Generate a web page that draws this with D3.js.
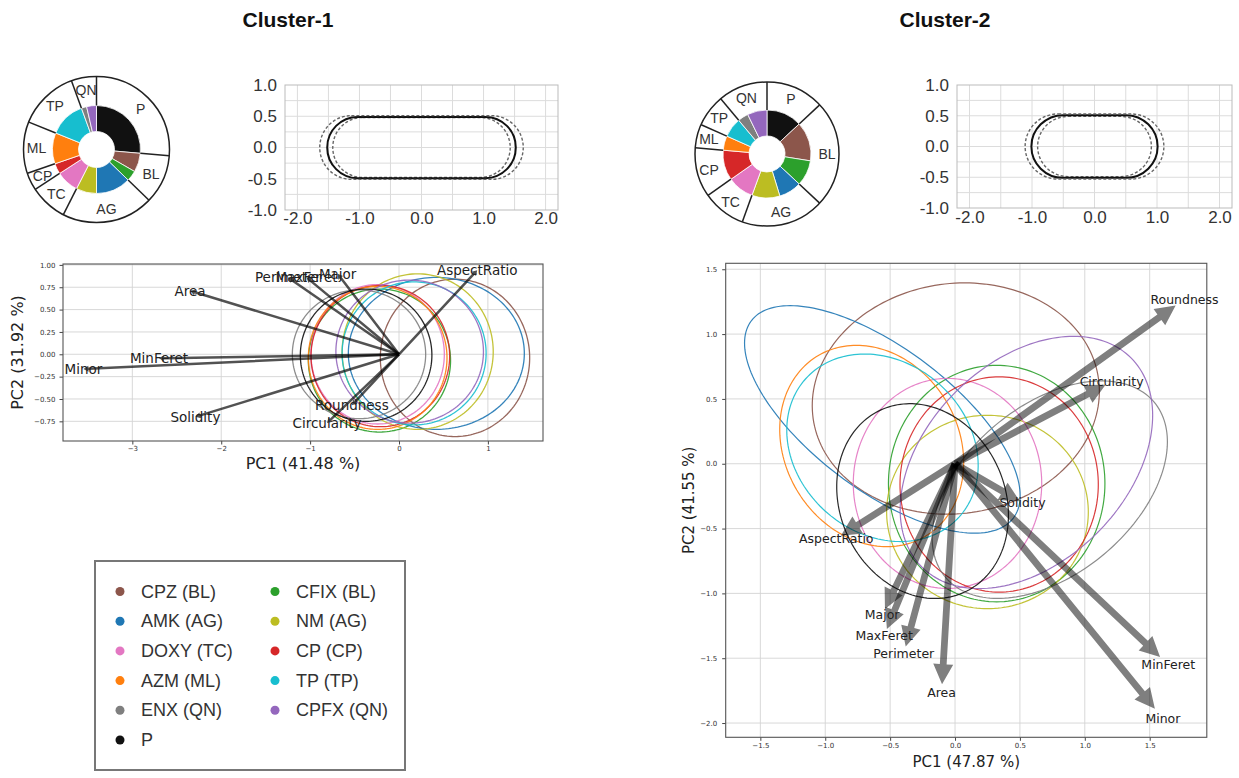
<!DOCTYPE html>
<html>
<head>
<meta charset="utf-8">
<script src="https://cdn.jsdelivr.net/npm/d3@7"></script>
<style>
  body { margin: 0; background: #fff; }
  svg { display: block; }
</style>
</head>
<body>
<svg id="chart" width="1239" height="778"></svg>
<script>
// ---- data ----
const drugs = ['CPZ', 'CFIX', 'AMK', 'NM', 'DOXY', 'CP', 'AZM', 'TP', 'ENX', 'CPFX', 'P'];
const drugColors = ['#8c564b', '#2ca02c', '#1f77b4', '#bcbd22', '#e377c2', '#d62728', '#ff7f0e', '#17becf', '#7f7f7f', '#9467bd', '#111111'];
const legendLabels = ['CPZ (BL)', 'CFIX (BL)', 'AMK (AG)', 'NM (AG)', 'DOXY (TC)', 'CP (CP)', 'AZM (ML)', 'TP (TP)', 'ENX (QN)', 'CPFX (QN)', 'P'];
const drugClass = { CPZ: 'BL', CFIX: 'BL', AMK: 'AG', NM: 'AG', DOXY: 'TC', CP: 'CP', AZM: 'ML', TP: 'TP', ENX: 'QN', CPFX: 'QN', P: 'P' };

// donut: clockwise from 12 o'clock
const pieOrder = ['P', 'CPZ', 'CFIX', 'AMK', 'NM', 'DOXY', 'CP', 'AZM', 'TP', 'ENX', 'CPFX'];
const pieCluster1 = [95, 25, 14, 46, 27, 30, 14, 41, 48, 7, 13];
const pieCluster2 = [47, 52, 34, 30, 37, 35, 40, 19, 26, 14, 26];

// mean shape outline: [half length, half height] for -sd, mean, +sd
const shapeCluster1 = [[1.43, 0.48], [1.52, 0.49], [1.64, 0.51]];
const shapeCluster2 = [[0.91, 0.49], [1.01, 0.51], [1.11, 0.53]];
const shapeXTicks = [-2, -1, 0, 1, 2];
const shapeYTicks = [-1, -0.5, 0, 0.5, 1];
const shapeGridX = [-2, -1.5, -1, -0.5, 0, 0.5, 1, 1.5, 2];
const shapeGridY = [-0.75, -0.5, -0.25, 0, 0.25, 0.5, 0.75];

// PCA loadings [PC1, PC2]
const features = ['Area', 'Perimeter', 'Major', 'Minor', 'Circularity', 'MaxFeret', 'MinFeret', 'AspectRatio', 'Roundness', 'Solidity'];
const loadCluster1 = [[-2.35, 0.71], [-1.25, 0.86], [-0.69, 0.90], [-3.55, -0.165], [-0.81, -0.77],
                      [-1.04, 0.86], [-2.70, -0.045], [0.88, 0.94], [-0.53, -0.57], [-2.29, -0.70]];
const loadCluster2 = [[-0.10, -1.70], [-0.38, -1.41], [-0.54, -1.12], [1.54, -1.89], [1.16, 0.61],
                      [-0.525, -1.275], [1.58, -1.49], [-0.88, -0.555], [1.70, 1.22], [0.50, -0.29]];

// confidence ellipses per drug (same order as drugs): [cx, cy, semi-axis a, semi-axis b, angle deg]
const ellCluster1 = [
  [0.63, -0.04, 0.84, 0.88, 0],
  [-0.22, -0.07, 0.80, 0.80, 0],
  [0.42, 0.01, 0.99, 0.85, 0],
  [0.21, 0.03, 0.85, 0.87, 0],
  [-0.24, 0.00, 0.75, 0.78, 0],
  [-0.21, -0.02, 0.78, 0.79, 0],
  [-0.24, -0.04, 0.78, 0.80, 0],
  [0.17, 0.01, 0.81, 0.80, 0],
  [-0.45, 0.00, 0.75, 0.72, 0],
  [0.12, 0.03, 0.83, 0.80, 0],
  [-0.37, -0.01, 0.74, 0.74, 0]
];
const ellCluster2 = [
  [0.006, 0.503, 1.11, 0.887, 8],
  [0.321, -0.153, 0.834, 0.912, 0],
  [-0.56, 0.342, 1.264, 0.547, -37],
  [0.25, -0.372, 0.777, 0.746, 0],
  [-0.058, -0.152, 0.726, 0.81, 0],
  [0.34, -0.16, 0.764, 0.83, 0],
  [-0.642, 0.137, 0.81, 0.67, -59.5],
  [-0.559, 0.123, 0.796, 0.658, -42],
  [0.73, -0.2, 1.05, 0.65, 40],
  [0.55, 0.01, 1.14, 0.77, 45],
  [-0.25, -0.288, 0.773, 0.636, -65.5]
];

const pcaC1XTicks = [-3, -2, -1, 0, 1];
const pcaC1YTicks = [-0.75, -0.5, -0.25, 0, 0.25, 0.5, 0.75, 1.0];
const pcaC2XTicks = [-1.5, -1.0, -0.5, 0, 0.5, 1.0, 1.5];
const pcaC2YTicks = [-2.0, -1.5, -1.0, -0.5, 0, 0.5, 1.0, 1.5];

// ---- drawing ----
const FONT_ARIAL = "'Liberation Sans', Arial, sans-serif";
const FONT_MPL = "'DejaVu Sans', sans-serif";
const svg = d3.select('#chart');
svg.append('rect').attr('width', 1239).attr('height', 778).attr('fill', '#fff');

const colorOf = d => drugColors[drugs.indexOf(d)];

// Titles
svg.append('text').attr('x', 288).attr('y', 27).attr('text-anchor', 'middle')
  .attr('font-family', FONT_ARIAL).attr('font-weight', 'bold').attr('font-size', 21).attr('fill', '#111')
  .text('Cluster-1');
svg.append('text').attr('x', 945).attr('y', 27).attr('text-anchor', 'middle')
  .attr('font-family', FONT_ARIAL).attr('font-weight', 'bold').attr('font-size', 21).attr('fill', '#111')
  .text('Cluster-2');

// Donut
function drawDonut(cx, cy, values, rOuter, labelR) {
  const g = svg.append('g').attr('transform', `translate(${cx},${cy})`);
  const pie = d3.pie().sort(null).value(d => d.v);
  const items = pieOrder.map((d, i) => ({ drug: d, v: values[i] }));
  const segArc = d3.arc().innerRadius(18).outerRadius(44);
  g.selectAll('path.seg').data(pie(items)).join('path')
    .attr('class', 'seg')
    .attr('d', segArc)
    .attr('fill', d => colorOf(d.data.drug))
    .attr('stroke', '#fff')
    .attr('stroke-width', 0.8);

  const classSums = d3.rollups(items, v => d3.sum(v, d => d.v), d => drugClass[d.drug]);
  const classArcs = pie(classSums.map(([k, v]) => ({ cls: k, v })));

  g.append('circle').attr('r', rOuter).attr('fill', 'none').attr('stroke', '#222').attr('stroke-width', 1.5);
  g.selectAll('line.div').data(classArcs).join('line')
    .attr('class', 'div')
    .attr('x1', d => 44 * Math.sin(d.startAngle))
    .attr('y1', d => -44 * Math.cos(d.startAngle))
    .attr('x2', d => rOuter * Math.sin(d.startAngle))
    .attr('y2', d => -rOuter * Math.cos(d.startAngle))
    .attr('stroke', '#222').attr('stroke-width', 1.5);
  g.selectAll('text.cls').data(classArcs).join('text')
    .attr('class', 'cls')
    .attr('x', d => labelR * Math.sin((d.startAngle + d.endAngle) / 2))
    .attr('y', d => -labelR * Math.cos((d.startAngle + d.endAngle) / 2))
    .attr('text-anchor', 'middle').attr('dominant-baseline', 'central')
    .attr('font-family', FONT_ARIAL).attr('font-size', 14).attr('fill', '#333')
    .text(d => d.data.cls);
}
drawDonut(96.5, 149.5, pieCluster1, 73, 60);
drawDonut(767, 154, pieCluster2, 72, 60);

// Mean shape plots
function stadiumPath(x, y, L, Hh) {
  const c = L - Hh;
  const rx = x(Hh) - x(0), ry = y(0) - y(Hh);
  return `M${x(-c)},${y(Hh)} L${x(c)},${y(Hh)} A${rx},${ry} 0 0 1 ${x(c)},${y(-Hh)} ` +
         `L${x(-c)},${y(-Hh)} A${rx},${ry} 0 0 1 ${x(-c)},${y(Hh)} Z`;
}

function drawShape(left, right, top, bottom, params, padX) {
  const x = d3.scaleLinear().domain([-2.2, 2.2]).range([left, right]);
  const y = d3.scaleLinear().domain([-1, 1]).range([bottom, top]);
  const g = svg.append('g');
  g.append('g').selectAll('line').data(shapeGridX).join('line')
    .attr('x1', d => x(d)).attr('x2', d => x(d)).attr('y1', top).attr('y2', bottom)
    .attr('stroke', '#dcdcdc').attr('stroke-width', 1);
  g.append('g').selectAll('line').data(shapeGridY).join('line')
    .attr('x1', left).attr('x2', right).attr('y1', d => y(d)).attr('y2', d => y(d))
    .attr('stroke', '#dcdcdc').attr('stroke-width', 1);
  g.append('rect').attr('x', left).attr('y', top).attr('width', right - left).attr('height', bottom - top)
    .attr('fill', 'none').attr('stroke', '#bbb').attr('stroke-width', 1);

  const styleAxis = a => {
    a.select('.domain').remove();
    a.selectAll('text').attr('font-family', FONT_ARIAL).attr('font-size', 17).attr('fill', '#333');
  };
  g.append('g').attr('transform', `translate(0,${bottom})`)
    .call(d3.axisBottom(x).tickValues(shapeXTicks).tickSize(0).tickPadding(padX).tickFormat(d => d.toFixed(1)))
    .call(styleAxis);
  g.append('g').attr('transform', `translate(${left},0)`)
    .call(d3.axisLeft(y).tickValues(shapeYTicks).tickSize(0).tickPadding(8).tickFormat(d => d.toFixed(1)))
    .call(styleAxis);

  const levels = g.append('g');
  levels.selectAll('path').data(params).join('path')
    .attr('d', d => stadiumPath(x, y, d[0], d[1]))
    .attr('fill', 'none')
    .attr('stroke', (d, i) => i === 1 ? '#111' : '#666')
    .attr('stroke-width', (d, i) => i === 1 ? 2 : 1.4)
    .attr('stroke-dasharray', (d, i) => i === 1 ? null : '3,2');
}
drawShape(285, 558, 85, 210, shapeCluster1, 2);
drawShape(957, 1232, 85, 208, shapeCluster2, 3);

// PCA biplots
function arrowPoints(x0, y0, x1, y1, w, hw, hl) {
  const dx = x1 - x0, dy = y1 - y0, L = Math.hypot(dx, dy);
  const ux = dx / L, uy = dy / L, nx = -uy, ny = ux;
  const bx = x1 - ux * hl, by = y1 - uy * hl;
  return [[x0 + nx * w, y0 + ny * w], [bx + nx * w, by + ny * w], [bx + nx * hw, by + ny * hw], [x1, y1],
          [bx - nx * hw, by - ny * hw], [bx - nx * w, by - ny * w], [x0 - nx * w, y0 - ny * w]];
}

function drawPCA(cfg) {
  const x = d3.scaleLinear().domain(cfg.xDomain).range([cfg.left, cfg.right]);
  const y = d3.scaleLinear().domain(cfg.yDomain).range([cfg.bottom, cfg.top]);
  const g = svg.append('g');
  const clipId = 'clip-' + cfg.id;
  svg.append('clipPath').attr('id', clipId).append('rect')
    .attr('x', cfg.left).attr('y', cfg.top).attr('width', cfg.right - cfg.left).attr('height', cfg.bottom - cfg.top);

  // grid
  g.append('g').selectAll('line').data(cfg.xTicks).join('line')
    .attr('x1', d => x(d)).attr('x2', d => x(d)).attr('y1', cfg.top).attr('y2', cfg.bottom)
    .attr('stroke', '#d4d4d4').attr('stroke-width', 0.9);
  g.append('g').selectAll('line').data(cfg.yTicks).join('line')
    .attr('x1', cfg.left).attr('x2', cfg.right).attr('y1', d => y(d)).attr('y2', d => y(d))
    .attr('stroke', '#d4d4d4').attr('stroke-width', 0.9);

  // axes
  const styleAxis = a => {
    a.select('.domain').remove();
    a.selectAll('text').attr('font-family', FONT_MPL).attr('font-size', 7).attr('fill', '#333');
    a.selectAll('line').attr('stroke', '#444');
  };
  g.append('g').attr('transform', `translate(0,${cfg.bottom})`)
    .call(d3.axisBottom(x).tickValues(cfg.xTicks).tickSize(3.5).tickPadding(2).tickFormat(cfg.xFormat))
    .call(styleAxis);
  g.append('g').attr('transform', `translate(${cfg.left},0)`)
    .call(d3.axisLeft(y).tickValues(cfg.yTicks).tickSize(3.5).tickPadding(cfg.yPad).tickFormat(cfg.yFormat))
    .call(styleAxis);

  // ellipses
  const plot = g.append('g').attr('clip-path', `url(#${clipId})`);
  const line = d3.line().x(p => x(p[0])).y(p => y(p[1])).curve(d3.curveLinearClosed);
  const steps = d3.range(0, 2 * Math.PI, Math.PI / 90);
  plot.selectAll('path.ell').data(cfg.ellipses).join('path')
    .attr('class', 'ell')
    .attr('d', e => {
      const [cx, cy, a, b, ang] = e;
      const r = ang * Math.PI / 180;
      return line(steps.map(t => [
        cx + a * Math.cos(t) * Math.cos(r) - b * Math.sin(t) * Math.sin(r),
        cy + a * Math.cos(t) * Math.sin(r) + b * Math.sin(t) * Math.cos(r)
      ]));
    })
    .attr('fill', 'none')
    .attr('stroke', (e, i) => drugColors[i])
    .attr('stroke-width', cfg.ellWidth)
    .attr('stroke-opacity', 0.9);

  // arrows
  const a = cfg.arrow;
  plot.selectAll('polygon.arr').data(cfg.loads).join('polygon')
    .attr('class', 'arr')
    .attr('points', d => arrowPoints(x(0), y(0), x(d[0]), y(d[1]), a.w, a.hw, a.hl).map(p => p.join(',')).join(' '))
    .attr('fill', '#000')
    .attr('fill-opacity', a.opacity);

  // frame
  g.append('rect').attr('x', cfg.left).attr('y', cfg.top)
    .attr('width', cfg.right - cfg.left).attr('height', cfg.bottom - cfg.top)
    .attr('fill', 'none').attr('stroke', '#555').attr('stroke-width', 1.1);

  // feature labels
  g.selectAll('text.feat').data(cfg.loads).join('text')
    .attr('class', 'feat')
    .attr('x', d => x(d[0] * cfg.labelScale))
    .attr('y', d => y(d[1] * cfg.labelScale))
    .attr('text-anchor', 'middle').attr('dominant-baseline', 'central')
    .attr('font-family', FONT_MPL).attr('font-size', cfg.labelSize).attr('fill', '#222')
    .text((d, i) => features[i]);

  // axis titles
  g.append('text').attr('x', (cfg.left + cfg.right) / 2).attr('y', cfg.xLabelY)
    .attr('text-anchor', 'middle').attr('font-family', FONT_MPL).attr('font-size', cfg.titleSize).attr('fill', '#222')
    .text(cfg.xLabel);
  g.append('text')
    .attr('transform', `translate(${cfg.yLabelX},${(cfg.top + cfg.bottom) / 2}) rotate(-90)`)
    .attr('text-anchor', 'middle').attr('dominant-baseline', 'central')
    .attr('font-family', FONT_MPL).attr('font-size', cfg.titleSize).attr('fill', '#222')
    .text(cfg.yLabel);
}

drawPCA({
  id: 'c1', left: 63, right: 543, top: 264, bottom: 441,
  xDomain: [-3.78, 1.62], yDomain: [-0.97, 1.01],
  xTicks: pcaC1XTicks, yTicks: pcaC1YTicks,
  xFormat: d3.format('d'), yFormat: d3.format('.2f'), yPad: 4,
  ellipses: ellCluster1, ellWidth: 1.3,
  loads: loadCluster1, labelScale: 1.0, labelSize: 13.5,
  arrow: { w: 1.25, hw: 3, hl: 5, opacity: 0.68 },
  xLabel: 'PC1 (41.48 %)', yLabel: 'PC2 (31.92 %)', titleSize: 16, xLabelY: 469, yLabelX: 17.5
});

drawPCA({
  id: 'c2', left: 725.7, right: 1206.8, top: 263.3, bottom: 737.3,
  xDomain: [-1.767, 1.94], yDomain: [-2.11, 1.546],
  xTicks: pcaC2XTicks, yTicks: pcaC2YTicks,
  xFormat: d3.format('.1f'), yFormat: d3.format('.1f'), yPad: 5,
  ellipses: ellCluster2, ellWidth: 1.2,
  loads: loadCluster2, labelScale: 1.04, labelSize: 12.5,
  arrow: { w: 3.4, hw: 10, hl: 20, opacity: 0.5 },
  xLabel: 'PC1 (47.87 %)', yLabel: 'PC2 (41.55 %)', titleSize: 15, xLabelY: 767, yLabelX: 689
});

// Legend
const legend = svg.append('g');
legend.append('rect').attr('x', 95).attr('y', 561).attr('width', 310).attr('height', 209)
  .attr('fill', '#fff').attr('stroke', '#777').attr('stroke-width', 2);
const entries = legend.selectAll('g.entry').data(legendLabels).join('g')
  .attr('class', 'entry')
  .attr('transform', (d, i) => `translate(${i % 2 === 0 ? 120 : 275},${591.5 + Math.floor(i / 2) * 29.7})`);
entries.append('circle').attr('r', 4.5).attr('fill', (d, i) => drugColors[i]);
entries.append('text').attr('x', 21).attr('dominant-baseline', 'central')
  .attr('font-family', FONT_ARIAL).attr('font-size', 18).attr('fill', '#333')
  .text(d => d);
</script>
</body>
</html>
